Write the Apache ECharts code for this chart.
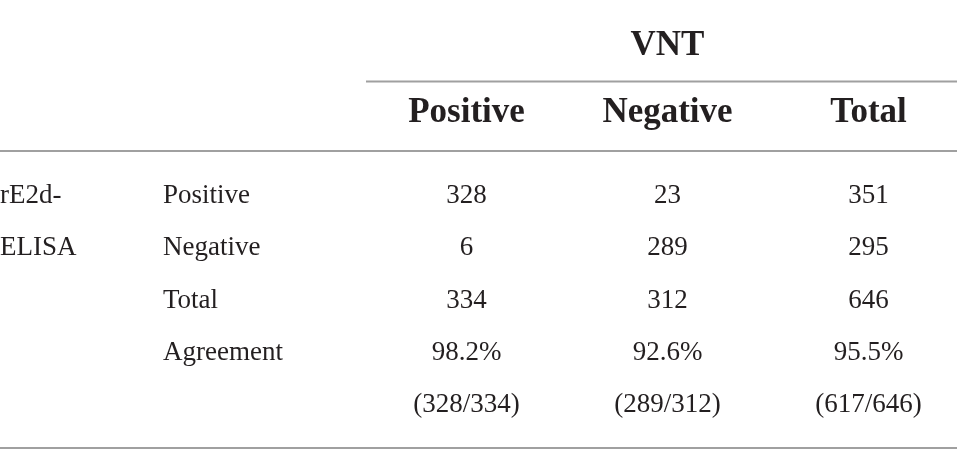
<!DOCTYPE html>
<html>
<head>
<meta charset="utf-8">
<script src="https://cdn.jsdelivr.net/npm/echarts@6/dist/echarts.min.js"></script>
<style>
  html, body { margin: 0; padding: 0; background: #fff; }
  #main { width: 957px; height: 464px; }
</style>
</head>
<body>
<div id="main"></div>
<script>
;(function() {
    // table content
    var vntCols = ['Positive', 'Negative', 'Total'];
    var elisaRows = ['Positive', 'Negative', 'Total', 'Agreement', ''];
    var groupLabel = ['rE2d-', 'ELISA', '', '', ''];
    var vntPositive = [328, 6, 334];
    var vntNegative = [23, 289, 312];
    var vntTotal = [351, 295, 646];
    var agreement = [98.2, 92.6, 95.5];
    var agreementFrac = ['328/334', '289/312', '617/646'];

    var font = 'Liberation Serif';
    var ink = '#231f20';
    var rule = '#a0a0a0';

    var cells = [];
    [vntPositive, vntNegative, vntTotal].forEach(function(col, ci) {
        col.forEach(function(v, ri) {
            cells.push({ value: [ci, ri], text: String(v) });
        });
        cells.push({ value: [ci, 3], text: agreement[ci].toFixed(1) + '%' });
        cells.push({ value: [ci, 4], text: '(' + agreementFrac[ci] + ')' });
    });

    var chart = echarts.init(document.getElementById('main'));
    chart.setOption({
        animation: false,
        textStyle: { fontFamily: font },
        grid: { left: 366, top: 170, width: 603, height: 261, outerBoundsMode: 'none', containLabel: false },
        xAxis: {
            type: 'category',
            position: 'top',
            data: vntCols,
            name: 'VNT',
            nameLocation: 'middle',
            nameGap: 124,
            nameTextStyle: {
                fontFamily: font, fontWeight: 'bold', fontSize: 35, color: ink,
                verticalAlign: 'middle'
            },
            axisLine: { show: false },
            axisTick: { show: false },
            splitLine: { show: false },
            axisLabel: {
                margin: 57,
                verticalAlign: 'middle',
                fontFamily: font, fontWeight: 'bold', fontSize: 35, color: ink
            }
        },
        yAxis: [{
            type: 'category',
            inverse: true,
            data: elisaRows,
            axisLine: { show: false },
            axisTick: { show: false },
            splitLine: { show: false },
            axisLabel: { align: 'left', margin: 203, fontFamily: font, fontSize: 27, color: ink }
        }, {
            type: 'category',
            position: 'left',
            inverse: true,
            data: groupLabel,
            axisLine: { show: false },
            axisTick: { show: false },
            splitLine: { show: false },
            axisLabel: { align: 'left', margin: 366, fontFamily: font, fontSize: 27, color: ink }
        }],
        graphic: [
            { type: 'line', shape: { x1: 366, y1: 81.5, x2: 957, y2: 81.5 }, style: { stroke: rule, lineWidth: 2 } },
            { type: 'line', shape: { x1: 0, y1: 151, x2: 957, y2: 151 }, style: { stroke: rule, lineWidth: 2 } },
            { type: 'line', shape: { x1: 0, y1: 448, x2: 957, y2: 448 }, style: { stroke: rule, lineWidth: 2 } }
        ],
        series: [{
            type: 'scatter',
            symbolSize: 0,
            itemStyle: { opacity: 1 },
            data: cells,
            label: {
                show: true,
                position: 'inside',
                fontFamily: font,
                fontSize: 27,
                color: ink,
                opacity: 1,
                textBorderWidth: 0,
                formatter: function(p) { return p.data.text; }
            }
        }]
    });
})();
</script>
</body>
</html>
